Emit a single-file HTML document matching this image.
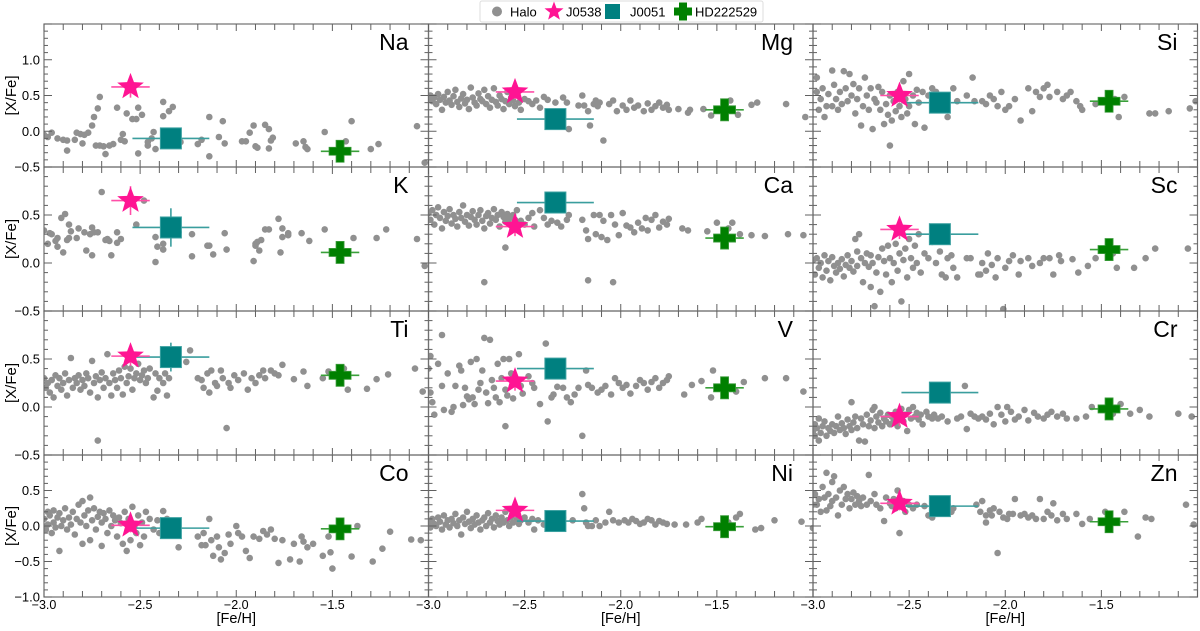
<!DOCTYPE html>
<html><head><meta charset="utf-8"><style>
html,body{margin:0;padding:0;background:#fff;}
svg text{font-family:"Liberation Sans",sans-serif;}
</style></head><body>
<svg id="chart" width="1200" height="626" viewBox="0 0 1200 626" xmlns="http://www.w3.org/2000/svg">
<g id="legend">
<rect x="480" y="1" width="283" height="21" fill="#fff" stroke="#ddd" rx="2"/>
<circle cx="497" cy="11.5" r="5" fill="#909090"/>
<text x="510" y="16.5" font-size="13">Halo</text>
<path id="legstar" fill="#ff1493"/>
<text x="566" y="16.5" font-size="13">J0538</text>
<rect x="605" y="4" width="15" height="15" fill="#008080"/>
<text x="630" y="16.5" font-size="13">J0051</text>
<path d="M679,4h8v5h5v8h-5v5h-8v-5h-5v-8h5z" transform="translate(0,-1.5)" fill="#008000"/>
<text x="695" y="16.5" font-size="13">HD222529</text>
</g>
</svg>
<script>
const elements = ["Na","Mg","Si","K","Ca","Sc","Ti","V","Cr","Co","Ni","Zn"];
const starFeH = -2.55, squareFeH = -2.34, plusFeH = -1.46;
const starValues = [0.62,0.55,0.50,0.65,0.38,0.35,0.53,0.27,-0.10,0.01,0.22,0.32];
const squareValues = [-0.10,0.17,0.40,0.37,0.63,0.30,0.52,0.40,0.15,-0.03,0.07,0.28];
const plusValues = [-0.28,0.30,0.42,0.11,0.26,0.14,0.33,0.20,-0.02,-0.04,-0.01,0.06];
const starYErr = [0.15,0.1,0.1,0.15,0.1,0.1,0.1,0.1,0.1,0.1,0.1,0.1];
const squareYErr = [0.05,0.15,0.1,0.2,0.1,0.1,0.15,0.1,0.1,0.1,0.1,0.1];
const xTickLabels = ["-3.0","-2.5","-2.0","-1.5"];
const haloNa=[[-3.0,-0.05],[-2.98,-0.08],[-2.96,-0.02],[-2.93,-0.1],[-2.9,-0.12],[-2.88,-0.13],[-2.88,-0.27],[-2.84,-0.12],[-2.83,-0.02],[-2.81,-0.04],[-2.8,-0.17],[-2.79,-0.05],[-2.77,-0.02],[-2.75,0.08],[-2.74,0.2],[-2.72,0.32],[-2.71,0.48],[-2.73,-0.2],[-2.71,-0.2],[-2.69,-0.21],[-2.68,-0.32],[-2.66,-0.2],[-2.64,-0.18],[-2.62,0.33],[-2.6,-0.12],[-2.59,-0.04],[-2.58,-0.14],[-2.57,0.25],[-2.56,0.6],[-2.54,0.17],[-2.52,0.17],[-2.51,-0.31],[-2.51,0.33],[-2.49,0.23],[-2.46,-0.2],[-2.46,-0.15],[-2.44,-0.1],[-2.43,-0.01],[-2.42,-0.25],[-2.38,0.41],[-2.38,0.21],[-2.35,0.28],[-2.33,0.34],[-2.29,-0.15],[-2.2,-0.18],[-2.18,-0.12],[-2.14,0.2],[-2.14,-0.35],[-2.09,-0.08],[-2.07,0.14],[-2.06,-0.17],[-1.97,-0.14],[-1.95,-0.14],[-1.91,0.08],[-1.93,-0.02],[-1.9,-0.21],[-1.89,-0.23],[-1.85,0.09],[-1.83,0.03],[-1.83,-0.24],[-1.82,-0.13],[-1.81,-0.09],[-1.69,-0.17],[-1.65,-0.14],[-1.64,-0.22],[-1.63,-0.25],[-1.54,-0.01],[-1.43,-0.14],[-1.4,0.14],[-1.3,-0.25],[-1.26,-0.18],[-1.06,0.07],[-1.02,-0.44]];
const haloMg=[[-3.0,0.45],[-2.99,0.5],[-2.98,0.42],[-2.97,0.47],[-2.96,0.38],[-2.95,0.52],[-2.94,0.44],[-2.93,0.3],[-2.92,0.48],[-2.91,0.4],[-2.9,0.55],[-2.89,0.43],[-2.88,0.37],[-2.87,0.49],[-2.86,0.58],[-2.85,0.41],[-2.84,0.34],[-2.83,0.46],[-2.82,0.52],[-2.81,0.39],[-2.8,0.44],[-2.79,0.31],[-2.78,0.61],[-2.77,0.47],[-2.76,0.4],[-2.75,0.36],[-2.74,0.53],[-2.73,0.45],[-2.72,0.42],[-2.71,0.58],[-2.7,0.38],[-2.69,0.49],[-2.68,0.33],[-2.67,0.44],[-2.66,0.6],[-2.65,0.41],[-2.64,0.36],[-2.63,0.5],[-2.62,0.45],[-2.61,0.31],[-2.6,0.42],[-2.59,0.55],[-2.58,0.38],[-2.57,0.47],[-2.56,0.43],[-2.55,0.35],[-2.53,0.4],[-2.52,0.3],[-2.5,0.45],[-2.48,0.42],[-2.46,0.38],[-2.44,0.43],[-2.42,0.33],[-2.4,0.48],[-2.38,0.44],[-2.34,0.4],[-2.3,0.47],[-2.28,0.4],[-2.27,0.03],[-2.22,0.36],[-2.2,0.5],[-2.19,0.36],[-2.17,0.28],[-2.16,0.08],[-2.14,0.38],[-2.13,0.43],[-2.12,0.35],[-2.11,0.4],[-2.09,-0.13],[-2.06,0.38],[-2.04,0.43],[-2.02,0.28],[-1.99,0.36],[-1.97,0.3],[-1.95,0.43],[-1.93,0.33],[-1.91,0.36],[-1.88,0.28],[-1.86,0.39],[-1.84,0.3],[-1.82,0.35],[-1.8,0.4],[-1.78,0.33],[-1.76,0.37],[-1.75,0.3],[-1.7,0.31],[-1.65,0.26],[-1.64,0.3],[-1.57,0.31],[-1.53,0.22],[-1.46,0.38],[-1.43,0.43],[-1.39,0.23],[-1.32,0.37],[-1.29,0.4],[-1.14,0.38],[-1.04,0.2]];
const haloSi=[[-2.98,0.75],[-2.98,0.55],[-2.97,0.3],[-2.96,0.45],[-2.95,0.6],[-2.94,0.2],[-2.93,0.35],[-2.92,0.52],[-2.9,0.85],[-2.9,0.35],[-2.89,0.65],[-2.88,0.45],[-2.87,0.3],[-2.86,0.55],[-2.85,0.38],[-2.84,0.84],[-2.83,0.6],[-2.82,0.42],[-2.81,0.8],[-2.8,0.5],[-2.79,0.66],[-2.78,0.25],[-2.77,0.45],[-2.76,0.6],[-2.75,0.08],[-2.74,0.35],[-2.73,0.75],[-2.72,0.5],[-2.71,0.3],[-2.7,0.6],[-2.69,0.03],[-2.68,0.45],[-2.67,0.4],[-2.66,0.62],[-2.65,0.3],[-2.64,0.55],[-2.63,0.1],[-2.62,0.38],[-2.61,0.23],[-2.6,-0.2],[-2.6,0.5],[-2.59,0.15],[-2.58,0.42],[-2.57,0.28],[-2.56,0.55],[-2.55,0.35],[-2.54,0.2],[-2.53,0.7],[-2.52,0.45],[-2.51,0.25],[-2.5,0.8],[-2.5,0.35],[-2.48,0.5],[-2.47,0.1],[-2.46,0.58],[-2.45,0.4],[-2.43,0.55],[-2.42,0.05],[-2.4,0.5],[-2.38,0.6],[-2.36,0.55],[-2.34,0.3],[-2.32,0.5],[-2.3,0.2],[-2.27,0.6],[-2.25,0.42],[-2.2,0.5],[-2.17,0.75],[-2.16,0.42],[-2.12,0.42],[-2.1,0.38],[-2.08,0.5],[-2.06,0.45],[-2.04,0.35],[-2.02,0.55],[-2.0,0.3],[-1.98,0.35],[-1.95,0.45],[-1.92,0.15],[-1.88,0.6],[-1.86,0.28],[-1.84,0.55],[-1.82,0.48],[-1.8,0.6],[-1.78,0.65],[-1.77,0.48],[-1.73,0.55],[-1.7,0.45],[-1.68,0.5],[-1.66,0.55],[-1.63,0.42],[-1.61,0.35],[-1.6,0.3],[-1.53,0.38],[-1.43,0.45],[-1.41,0.2],[-1.38,0.48],[-1.25,0.25],[-1.22,0.25],[-1.15,0.28],[-1.04,0.32],[-1.01,0.42]];
const haloK=[[-3.0,0.34],[-2.98,0.2],[-2.97,0.31],[-2.96,0.3],[-2.94,0.23],[-2.93,0.17],[-2.93,0.26],[-2.91,0.47],[-2.9,0.11],[-2.89,0.51],[-2.88,0.24],[-2.87,0.4],[-2.86,0.33],[-2.87,0.26],[-2.83,0.26],[-2.82,0.36],[-2.79,0.32],[-2.78,0.13],[-2.76,0.3],[-2.75,0.08],[-2.75,0.37],[-2.74,0.32],[-2.72,0.32],[-2.7,0.74],[-2.68,0.24],[-2.67,0.25],[-2.66,0.23],[-2.65,0.08],[-2.62,0.21],[-2.62,0.32],[-2.6,0.25],[-2.48,0.65],[-2.52,0.4],[-2.42,0.27],[-2.41,0.17],[-2.42,0.01],[-2.38,0.2],[-2.38,0.14],[-2.3,0.32],[-2.23,0.3],[-2.23,0.07],[-2.15,0.18],[-2.14,0.18],[-2.12,0.09],[-2.06,0.31],[-2.05,0.14],[-1.91,0.02],[-1.9,0.18],[-1.9,0.2],[-1.89,0.22],[-1.88,0.13],[-1.87,0.24],[-1.85,0.35],[-1.83,0.35],[-1.78,0.46],[-1.77,0.11],[-1.76,0.36],[-1.76,0.27],[-1.73,0.31],[-1.73,0.29],[-1.66,0.31],[-1.62,0.23],[-1.54,0.35],[-1.46,0.16],[-1.39,0.26],[-1.27,0.26],[-1.22,0.35],[-1.06,0.25],[-1.02,-0.03]];
const haloCa=[[-3,0.52],[-2.99,0.45],[-2.98,0.55],[-2.97,0.4],[-2.96,0.5],[-2.95,0.58],[-2.94,0.47],[-2.93,0.36],[-2.92,0.53],[-2.91,0.44],[-2.9,0.49],[-2.89,0.56],[-2.88,0.41],[-2.87,0.5],[-2.86,0.46],[-2.85,0.38],[-2.84,0.53],[-2.83,0.47],[-2.82,0.6],[-2.81,0.43],[-2.8,0.5],[-2.79,0.39],[-2.78,0.48],[-2.77,0.54],[-2.76,0.45],[-2.75,0.4],[-2.74,0.5],[-2.73,0.55],[-2.72,0.44],[-2.71,0.36],[-2.7,0.49],[-2.69,0.52],[-2.68,0.41],[-2.67,0.47],[-2.66,0.56],[-2.65,0.45],[-2.64,0.5],[-2.63,0.38],[-2.62,0.53],[-2.61,0.48],[-2.6,0.43],[-2.59,0.51],[-2.58,0.46],[-2.57,0.4],[-2.56,0.5],[-2.55,0.45],[-2.54,0.55],[-2.6,0.16],[-2.71,-0.2],[-2.52,0.44],[-2.5,0.4],[-2.48,0.47],[-2.46,0.52],[-2.45,0.38],[-2.42,0.55],[-2.4,0.47],[-2.38,0.4],[-2.36,0.44],[-2.33,0.42],[-2.31,0.38],[-2.28,0.45],[-2.27,0.5],[-2.2,0.45],[-2.18,0.34],[-2.17,0.25],[-2.14,0.5],[-2.13,0.3],[-2.11,0.5],[-2.1,0.27],[-2.09,0.44],[-2.07,0.24],[-2.05,0.5],[-2.03,0.4],[-2.01,0.29],[-1.99,0.52],[-1.97,0.39],[-1.95,0.37],[-1.93,0.32],[-1.91,0.42],[-1.89,0.36],[-1.87,0.47],[-1.86,0.34],[-1.84,0.45],[-1.82,0.5],[-1.8,0.37],[-1.78,0.43],[-1.76,0.4],[-1.75,0.46],[-1.68,0.36],[-1.65,0.34],[-1.55,0.33],[-1.5,0.42],[-1.44,0.36],[-1.42,0.42],[-1.38,0.3],[-1.32,0.29],[-1.25,0.28],[-1.13,0.3],[-1.05,0.29],[-2.17,-0.18],[-2.04,-0.2]];
const haloSc=[[-3.0,0.03],[-2.99,-0.12],[-2.98,0.05],[-2.97,-0.05],[-2.96,0.0],[-2.95,-0.15],[-2.94,0.08],[-2.93,-0.08],[-2.92,0.02],[-2.91,-0.18],[-2.9,0.06],[-2.89,-0.03],[-2.88,-0.1],[-2.87,0.0],[-2.86,-0.06],[-2.85,0.04],[-2.84,-0.14],[-2.83,-0.02],[-2.82,0.08],[-2.81,-0.05],[-2.8,0.02],[-2.79,-0.09],[-2.78,0.25],[-2.77,0.12],[-2.77,-0.03],[-2.76,0.3],[-2.75,0.05],[-2.74,-0.2],[-2.73,0.0],[-2.72,0.1],[-2.71,-0.04],[-2.7,-0.25],[-2.7,0.08],[-2.69,0.0],[-2.68,-0.45],[-2.67,-0.1],[-2.66,0.06],[-2.65,-0.3],[-2.64,0.15],[-2.63,0.02],[-2.62,-0.12],[-2.61,0.18],[-2.6,0.05],[-2.59,-0.2],[-2.58,0.0],[-2.57,0.2],[-2.56,-0.08],[-2.55,0.1],[-2.54,-0.4],[-2.53,0.03],[-2.52,0.15],[-2.51,-0.15],[-2.5,0.25],[-2.49,0.05],[-2.48,-0.05],[-2.47,0.18],[-2.46,0.0],[-2.45,0.3],[-2.44,-0.1],[-2.42,0.1],[-2.4,0.05],[-2.38,0.22],[-2.36,0.0],[-2.34,0.12],[-2.33,-0.12],[-2.31,-0.15],[-2.3,0.05],[-2.28,0.08],[-2.27,-0.05],[-2.25,-0.15],[-2.2,0.05],[-2.18,0.05],[-2.14,-0.12],[-2.13,-0.12],[-2.12,0.0],[-2.1,-0.08],[-2.09,0.1],[-2.07,-0.02],[-2.05,-0.15],[-2.04,0.05],[-2.01,-0.48],[-2.0,-0.05],[-1.98,0.02],[-1.96,0.08],[-1.93,-0.12],[-1.92,0.02],[-1.88,0.05],[-1.86,-0.03],[-1.82,0.0],[-1.8,0.05],[-1.77,0.05],[-1.75,-0.12],[-1.72,0.08],[-1.71,0.02],[-1.65,0.04],[-1.62,-0.1],[-1.57,-0.03],[-1.53,0.05],[-1.44,0.1],[-1.42,-0.05],[-1.33,-0.05],[-1.27,0.05],[-1.22,0.15],[-1.05,0.15]];
const haloTi=[[-3.0,0.3],[-2.99,0.2],[-2.98,0.25],[-2.97,0.15],[-2.96,0.28],[-2.95,0.1],[-2.94,0.33],[-2.93,0.22],[-2.92,0.3],[-2.91,0.18],[-2.9,0.25],[-2.89,0.35],[-2.88,0.12],[-2.87,0.28],[-2.86,0.51],[-2.85,0.2],[-2.84,0.3],[-2.83,0.25],[-2.82,0.33],[-2.81,0.18],[-2.8,0.28],[-2.79,0.22],[-2.78,0.35],[-2.77,0.3],[-2.76,0.15],[-2.75,0.48],[-2.74,0.25],[-2.73,0.32],[-2.72,0.1],[-2.71,0.28],[-2.72,-0.35],[-2.7,0.36],[-2.69,0.2],[-2.68,0.3],[-2.67,0.55],[-2.66,0.25],[-2.65,0.12],[-2.64,0.35],[-2.63,0.28],[-2.62,0.2],[-2.61,0.38],[-2.6,0.3],[-2.59,0.13],[-2.58,0.42],[-2.57,0.25],[-2.56,0.32],[-2.55,0.4],[-2.54,0.18],[-2.53,0.3],[-2.52,0.35],[-2.51,0.45],[-2.5,0.28],[-2.49,0.33],[-2.48,0.38],[-2.47,0.25],[-2.46,0.3],[-2.45,0.4],[-2.43,0.1],[-2.42,0.35],[-2.41,0.17],[-2.4,0.3],[-2.38,0.25],[-2.37,0.35],[-2.36,0.12],[-2.35,0.3],[-2.26,0.47],[-2.24,0.59],[-2.2,0.3],[-2.18,0.28],[-2.17,0.2],[-2.15,0.35],[-2.14,0.15],[-2.13,0.38],[-2.11,0.25],[-2.1,0.22],[-2.08,0.38],[-2.07,0.3],[-2.05,-0.22],[-2.04,0.25],[-2.03,0.2],[-2.01,0.33],[-1.99,0.28],[-1.96,0.35],[-1.94,0.18],[-1.92,0.3],[-1.9,0.25],[-1.88,0.33],[-1.86,0.38],[-1.85,0.3],[-1.82,0.38],[-1.8,0.35],[-1.78,0.33],[-1.76,0.44],[-1.7,0.29],[-1.65,0.37],[-1.63,0.22],[-1.55,0.3],[-1.52,0.37],[-1.44,0.4],[-1.42,0.18],[-1.32,0.19],[-1.27,0.29],[-1.21,0.34],[-1.07,0.4],[-1.03,0.16]];
const haloV=[[-3.0,0.4],[-2.99,0.53],[-2.99,0.15],[-2.98,0.05],[-2.97,-0.08],[-2.95,0.45],[-2.93,0.75],[-2.93,0.22],[-2.92,-0.03],[-2.9,0.35],[-2.88,-0.05],[-2.87,0.0],[-2.86,0.22],[-2.84,0.43],[-2.83,0.38],[-2.82,0.02],[-2.81,0.2],[-2.8,0.11],[-2.79,0.08],[-2.78,0.47],[-2.77,0.1],[-2.76,0.03],[-2.75,0.5],[-2.74,0.18],[-2.73,0.25],[-2.72,0.38],[-2.71,0.72],[-2.7,0.15],[-2.69,0.04],[-2.68,0.7],[-2.67,0.28],[-2.66,0.2],[-2.65,0.1],[-2.64,0.45],[-2.63,0.05],[-2.62,0.3],[-2.61,0.5],[-2.6,-0.2],[-2.6,0.18],[-2.59,0.12],[-2.58,0.5],[-2.57,0.35],[-2.56,0.09],[-2.55,0.3],[-2.53,0.55],[-2.52,0.22],[-2.51,0.14],[-2.48,0.32],[-2.46,0.25],[-2.45,0.2],[-2.42,0.03],[-2.39,0.66],[-2.38,-0.15],[-2.36,0.1],[-2.35,0.13],[-2.33,0.21],[-2.3,0.2],[-2.28,0.1],[-2.26,0.05],[-2.24,0.13],[-2.22,0.2],[-2.2,-0.3],[-2.18,0.38],[-2.17,0.23],[-2.15,0.2],[-2.12,0.15],[-2.1,0.18],[-2.08,0.22],[-2.05,0.13],[-2.03,0.3],[-2.01,0.25],[-1.99,0.2],[-1.97,0.23],[-1.95,0.14],[-1.92,0.22],[-1.9,0.28],[-1.88,0.25],[-1.86,0.18],[-1.84,0.26],[-1.82,0.3],[-1.8,0.2],[-1.78,0.25],[-1.76,0.28],[-1.75,0.32],[-1.67,0.13],[-1.63,0.23],[-1.58,0.27],[-1.52,0.38],[-1.53,0.1],[-1.4,0.16],[-1.36,0.26],[-1.25,0.3],[-1.14,0.3],[-1.05,0.16]];
const haloCr=[[-3.0,-0.25],[-2.99,-0.3],[-2.99,-0.18],[-2.98,-0.22],[-2.97,-0.35],[-2.97,-0.12],[-2.96,-0.27],[-2.95,-0.2],[-2.94,-0.15],[-2.93,-0.3],[-2.92,-0.22],[-2.91,-0.25],[-2.9,-0.18],[-2.89,-0.27],[-2.88,-0.2],[-2.87,-0.1],[-2.86,-0.24],[-2.85,-0.17],[-2.84,-0.22],[-2.83,-0.28],[-2.82,-0.13],[-2.81,-0.2],[-2.8,0.05],[-2.8,-0.24],[-2.79,-0.16],[-2.78,-0.1],[-2.77,-0.22],[-2.76,-0.35],[-2.75,-0.12],[-2.74,-0.18],[-2.73,-0.36],[-2.72,-0.08],[-2.71,-0.2],[-2.7,-0.14],[-2.69,-0.03],[-2.68,0.0],[-2.68,-0.22],[-2.67,-0.1],[-2.66,-0.16],[-2.65,-0.06],[-2.64,-0.2],[-2.63,-0.12],[-2.62,-0.15],[-2.61,-0.08],[-2.6,-0.18],[-2.59,-0.1],[-2.58,-0.14],[-2.57,-0.05],[-2.56,-0.2],[-2.55,-0.1],[-2.54,-0.02],[-2.53,-0.15],[-2.52,-0.08],[-2.51,-0.25],[-2.5,-0.03],[-2.49,-0.12],[-2.48,0.0],[-2.47,-0.1],[-2.46,-0.06],[-2.45,-0.13],[-2.44,-0.08],[-2.43,-0.18],[-2.41,-0.05],[-2.4,-0.1],[-2.38,-0.12],[-2.37,-0.08],[-2.35,-0.12],[-2.33,-0.1],[-2.3,-0.15],[-2.25,-0.12],[-2.23,-0.1],[-2.21,0.22],[-2.2,-0.23],[-2.18,-0.07],[-2.16,-0.1],[-2.14,-0.12],[-2.12,-0.1],[-2.1,-0.13],[-2.08,-0.07],[-2.06,-0.18],[-2.04,0.0],[-2.02,-0.08],[-2.0,-0.15],[-1.99,0.0],[-1.97,-0.05],[-1.95,-0.13],[-1.93,-0.1],[-1.9,-0.03],[-1.88,-0.14],[-1.85,-0.06],[-1.83,-0.1],[-1.8,-0.12],[-1.78,-0.08],[-1.76,-0.05],[-1.73,-0.1],[-1.7,-0.07],[-1.68,-0.12],[-1.63,-0.12],[-1.58,-0.1],[-1.55,0.0],[-1.44,-0.07],[-1.4,0.03],[-1.35,-0.07],[-1.3,-0.03],[-1.25,-0.1],[-1.1,-0.07],[-1.03,-0.1]];
const haloCo=[[-3.0,0.1],[-2.99,-0.05],[-2.98,0.2],[-2.98,0.02],[-2.97,0.15],[-2.96,-0.1],[-2.95,0.22],[-2.95,0.05],[-2.94,-0.02],[-2.93,0.12],[-2.92,-0.35],[-2.92,0.18],[-2.91,0.0],[-2.9,0.08],[-2.89,0.25],[-2.88,-0.05],[-2.87,0.12],[-2.86,0.02],[-2.85,0.2],[-2.84,-0.12],[-2.83,0.1],[-2.82,0.3],[-2.81,0.05],[-2.8,0.35],[-2.8,-0.25],[-2.79,0.15],[-2.78,0.0],[-2.77,0.22],[-2.76,-0.2],[-2.76,0.4],[-2.75,0.08],[-2.74,0.25],[-2.73,-0.05],[-2.72,0.13],[-2.71,0.2],[-2.7,-0.28],[-2.7,0.05],[-2.69,0.18],[-2.68,0.1],[-2.67,-0.1],[-2.66,0.22],[-2.65,0.0],[-2.64,0.15],[-2.63,0.08],[-2.62,-0.15],[-2.61,0.12],[-2.6,0.04],[-2.59,-0.25],[-2.58,0.2],[-2.57,-0.35],[-2.56,0.1],[-2.55,-0.2],[-2.54,0.27],[-2.53,0.0],[-2.52,-0.1],[-2.51,0.15],[-2.5,-0.27],[-2.49,0.05],[-2.48,-0.15],[-2.47,0.2],[-2.45,0.1],[-2.43,-0.05],[-2.41,0.08],[-2.4,-0.1],[-2.38,0.21],[-2.36,0.1],[-2.3,-0.3],[-2.2,-0.15],[-2.18,-0.27],[-2.17,-0.1],[-2.16,-0.27],[-2.14,0.1],[-2.13,-0.2],[-2.12,-0.42],[-2.1,-0.15],[-2.09,-0.3],[-2.08,-0.47],[-2.06,-0.38],[-2.04,-0.12],[-2.03,-0.25],[-2.0,0.0],[-1.99,-0.1],[-1.97,-0.15],[-1.95,-0.35],[-1.93,-0.45],[-1.91,-0.15],[-1.88,-0.18],[-1.86,-0.07],[-1.84,-0.12],[-1.82,-0.05],[-1.8,-0.18],[-1.78,-0.52],[-1.76,-0.2],[-1.72,-0.47],[-1.7,-0.25],[-1.67,-0.5],[-1.66,-0.15],[-1.65,-0.22],[-1.63,-0.3],[-1.6,-0.25],[-1.55,-0.42],[-1.52,-0.15],[-1.51,-0.37],[-1.5,-0.6],[-1.4,-0.43],[-1.37,0.0],[-1.29,-0.5],[-1.24,-0.32],[-1.2,-0.08],[-1.09,-0.19],[-1.04,-0.2]];
const haloNi=[[-3.0,0.05],[-2.99,-0.02],[-2.98,0.1],[-2.97,0.03],[-2.96,0.0],[-2.95,0.12],[-2.94,0.06],[-2.93,-0.05],[-2.92,0.15],[-2.91,0.02],[-2.9,0.08],[-2.89,-0.02],[-2.88,0.1],[-2.87,0.04],[-2.86,0.17],[-2.85,0.0],[-2.84,0.08],[-2.83,-0.12],[-2.82,0.12],[-2.81,0.03],[-2.8,0.2],[-2.79,0.06],[-2.78,-0.03],[-2.77,0.1],[-2.76,0.02],[-2.75,0.15],[-2.74,0.05],[-2.73,-0.05],[-2.72,0.08],[-2.71,0.12],[-2.7,0.0],[-2.69,0.18],[-2.68,0.05],[-2.67,0.1],[-2.66,-0.02],[-2.65,0.15],[-2.64,0.07],[-2.63,0.02],[-2.62,0.12],[-2.61,0.05],[-2.6,0.2],[-2.59,0.08],[-2.58,0.0],[-2.57,0.13],[-2.56,0.05],[-2.55,0.25],[-2.54,0.1],[-2.53,0.03],[-2.52,0.08],[-2.5,0.12],[-2.48,0.05],[-2.46,0.1],[-2.45,-0.05],[-2.43,0.08],[-2.4,0.02],[-2.38,0.1],[-2.35,0.05],[-2.3,0.12],[-2.25,0.08],[-2.2,0.45],[-2.19,0.25],[-2.18,0.05],[-2.17,0.0],[-2.15,0.0],[-2.13,0.08],[-2.11,0.0],[-2.08,0.05],[-2.06,0.2],[-2.04,0.08],[-2.01,0.05],[-1.98,0.08],[-1.96,0.05],[-1.94,0.1],[-1.92,0.07],[-1.9,0.03],[-1.88,0.05],[-1.86,0.1],[-1.84,0.08],[-1.82,0.02],[-1.8,0.07],[-1.78,0.05],[-1.76,0.03],[-1.72,0.02],[-1.66,0.02],[-1.6,0.05],[-1.58,0.1],[-1.44,0.05],[-1.4,0.12],[-1.38,0.17],[-1.3,-0.05],[-1.27,-0.03],[-1.2,0.08],[-1.06,0.06],[-1.0,-0.03]];
const haloZn=[[-3.0,0.3],[-2.99,0.45],[-2.98,0.3],[-2.97,0.38],[-2.96,0.2],[-2.95,0.55],[-2.94,0.4],[-2.93,0.75],[-2.93,0.22],[-2.92,0.45],[-2.91,0.28],[-2.9,0.62],[-2.9,0.35],[-2.89,0.7],[-2.88,0.4],[-2.87,0.15],[-2.86,0.5],[-2.85,0.3],[-2.84,0.55],[-2.83,0.38],[-2.82,0.45],[-2.81,0.25],[-2.8,0.38],[-2.79,0.47],[-2.78,0.3],[-2.77,0.42],[-2.76,0.35],[-2.75,0.28],[-2.74,0.4],[-2.72,0.3],[-2.71,0.72],[-2.7,0.35],[-2.68,0.45],[-2.67,0.3],[-2.65,0.25],[-2.63,0.07],[-2.62,0.4],[-2.6,0.32],[-2.59,0.28],[-2.58,0.38],[-2.57,0.25],[-2.56,0.5],[-2.55,-0.1],[-2.54,0.28],[-2.53,0.35],[-2.52,0.2],[-2.5,0.3],[-2.48,0.25],[-2.46,0.3],[-2.42,0.28],[-2.4,0.15],[-2.38,0.12],[-2.33,0.25],[-2.3,0.3],[-2.28,0.2],[-2.27,0.25],[-2.15,0.3],[-2.13,0.2],[-2.12,0.35],[-2.1,0.05],[-2.1,0.15],[-2.08,0.22],[-2.07,0.15],[-2.06,0.25],[-2.04,-0.38],[-2.03,0.2],[-2.01,0.12],[-1.99,0.1],[-1.98,0.17],[-1.96,0.17],[-1.95,0.38],[-1.92,0.15],[-1.9,0.17],[-1.88,0.12],[-1.86,0.15],[-1.84,0.1],[-1.82,0.38],[-1.8,0.1],[-1.78,0.2],[-1.76,0.15],[-1.75,0.32],[-1.73,0.08],[-1.7,0.17],[-1.68,0.1],[-1.63,0.17],[-1.6,0.03],[-1.56,0.1],[-1.48,0.2],[-1.38,0.2],[-1.31,-0.15],[-1.27,0.12],[-1.24,0.1],[-1.06,0.3],[-1.02,0.02]];
const haloSets=[haloNa,haloMg,haloSi,haloK,haloCa,haloSc,haloTi,haloV,haloCr,haloCo,haloNi,haloZn];

const NS="http://www.w3.org/2000/svg";
const svg=document.getElementById('chart');
const rowTop=[24,167,311,455], rowBot=[167,311,455,597];
const colX=[44,428.5,813], colW=384.5;
const yLo=[-0.5,-0.5,-0.5,-1.0], yHi=[1.5,1.0,1.0,1.0];
const yLabels=[["1.0","0.5","0.0","-0.5"],["0.5","0.0","-0.5"],["0.5","0.0","-0.5"],["0.5","0.0","-0.5","-1.0"]];
function mk(tag,attrs,parent){const e=document.createElementNS(NS,tag);for(const k in attrs)e.setAttribute(k,attrs[k]);(parent||svg).appendChild(e);return e;}
function starPath(cx,cy,R){const r=R*0.42;let d="";for(let i=0;i<10;i++){const a=-Math.PI/2+i*Math.PI/5;const rr=i%2?r:R;d+=(i?"L":"M")+(cx+rr*Math.cos(a)).toFixed(2)+","+(cy+rr*Math.sin(a)).toFixed(2);}return d+"Z";}
document.getElementById('legstar').setAttribute('d',starPath(554,11.5,10));
const defs=mk('defs',{});
for(let p=0;p<12;p++){
  const r=Math.floor(p/3), c=p%3;
  const x0=colX[c], x1=x0+colW, y0=rowTop[r], y1=rowBot[r];
  const xs=v=>x0+(v+3)/2*colW;
  const ys=v=>y1-(v-yLo[r])/(yHi[r]-yLo[r])*(y1-y0);
  const cp=mk('clipPath',{id:'clip'+p},defs);mk('rect',{x:x0,y:y0,width:colW,height:y1-y0},cp);
  const g=mk('g',{});
  
  
  const pts=mk('g',{'clip-path':'url(#clip'+p+')'},g);
  
  
  for(const [fx,fy] of haloSets[p]){
    const dot=mk('circle',{cx:xs(fx).toFixed(1),cy:ys(fy).toFixed(1),r:3.3,fill:'#909090'},pts);
    
    
  }
  const sq=mk('g',{},pts);
  
  
  const sx=xs(squareFeH), sy=ys(squareValues[p]);
  mk('line',{x1:xs(squareFeH-0.2),x2:xs(squareFeH+0.2),y1:sy,y2:sy,stroke:'#3a9e9e','stroke-width':1.6},sq);
  mk('line',{x1:sx,x2:sx,y1:ys(squareValues[p]-squareYErr[p]),y2:ys(squareValues[p]+squareYErr[p]),stroke:'#3a9e9e','stroke-width':1.6},sq);
  mk('rect',{x:sx-10.5,y:sy-10.5,width:21,height:21,fill:'#008080',stroke:'#3aa0a0','stroke-width':1},sq);
  const st=mk('g',{},pts);
  
  
  const tx=xs(starFeH), ty=ys(starValues[p]);
  mk('line',{x1:xs(starFeH-0.1),x2:xs(starFeH+0.1),y1:ty,y2:ty,stroke:'#ff4fa8','stroke-width':1.6},st);
  mk('line',{x1:tx,x2:tx,y1:ys(starValues[p]-starYErr[p]),y2:ys(starValues[p]+starYErr[p]),stroke:'#ff4fa8','stroke-width':1.6},st);
  mk('path',{d:starPath(tx,ty,14),fill:'#ff1493'},st);
  const pl=mk('g',{},pts);
  
  
  const px=xs(plusFeH), py=ys(plusValues[p]);
  mk('line',{x1:xs(plusFeH-0.1),x2:xs(plusFeH+0.1),y1:py,y2:py,stroke:'#3aa03a','stroke-width':1.6},pl);
  mk('path',{d:`M${px-4},${py-11}h8v7h7v8h-7v7h-8v-7h-7v-8h7z`,fill:'#008000',stroke:'#3a9a3a','stroke-width':0.8},pl);
  mk('rect',{x:x0,y:y0,width:colW,height:y1-y0,fill:'none',stroke:'#707070','stroke-width':1.2},g);
  for(let i=0;i<=20;i++){const v=-3+i*0.1;const X=xs(v);const L=(i%5===0)?7:6;
    mk('line',{x1:X,x2:X,y1:y1,y2:y1-L,stroke:'#606060','stroke-width':1},g);
    mk('line',{x1:X,x2:X,y1:y0,y2:y0+L,stroke:'#606060','stroke-width':1},g);}
  const n=Math.round((yHi[r]-yLo[r])*10);
  for(let i=0;i<=n;i++){const v=yLo[r]+i*0.1;const Y=ys(v);const major=(i%5===0);const L=major?8:4;
    mk('line',{x1:x0,x2:x0+L,y1:Y,y2:Y,stroke:'#606060','stroke-width':1},g);
    mk('line',{x1:x1,x2:x1-L,y1:Y,y2:Y,stroke:'#606060','stroke-width':1},g);}
  const lab=mk('text',{x:x1-20,y:y0+26,'font-size':23,'text-anchor':'end',fill:'#000'},g);
  lab.textContent=elements[p];
  
  
  if(c===0){
    for(const s of yLabels[r]){const v=parseFloat(s);
      const t=mk('text',{x:x0-4,y:ys(v)+4.5,'font-size':13,'text-anchor':'end',fill:'#000'},g);
      t.textContent=s.replace('-','\u2212');
      
      }
    const yt=mk('text',{x:0,y:0,'font-size':15,'text-anchor':'middle',transform:`translate(16,${(y0+y1)/2}) rotate(-90)`},g);
    yt.textContent='[X/Fe]';
    
    
  }
  if(r===3){
    for(const s of xTickLabels){const v=parseFloat(s);
      const t=mk('text',{x:xs(v),y:y1+12,'font-size':12.5,'text-anchor':'middle',fill:'#000'},g);
      t.textContent=s.replace('-','\u2212');
      
      }
    const xt=mk('text',{x:(x0+x1)/2,y:623,'font-size':14.5,'text-anchor':'middle'},g);
    xt.textContent='[Fe/H]';
    
    
  }
}
svg.appendChild(document.getElementById('legend'));
</script>
</body></html>
